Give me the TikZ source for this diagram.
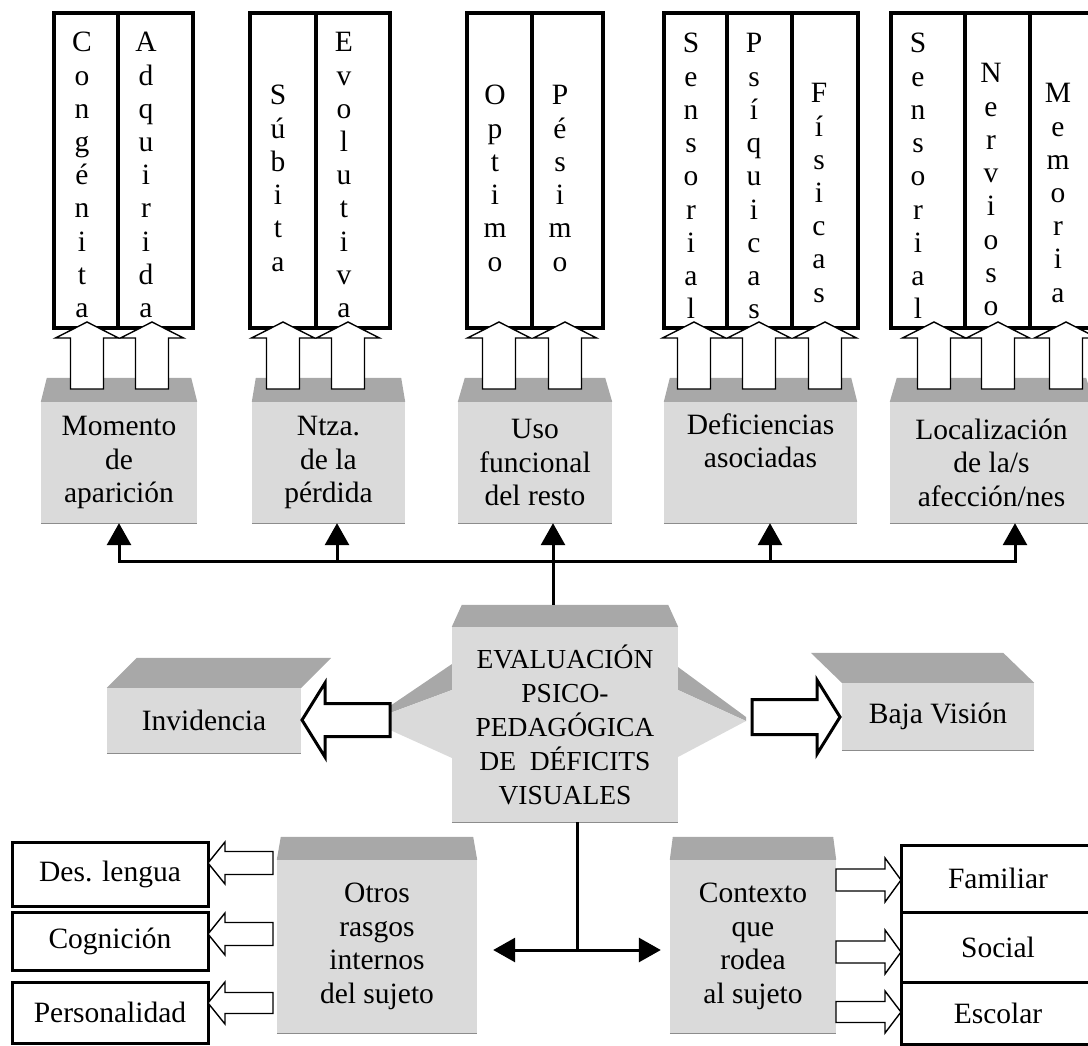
\documentclass[tikz,border=0pt]{standalone}
\usepackage{fontspec}
\setmainfont{Liberation Serif}
\usetikzlibrary{arrows.meta}
\definecolor{frontc}{RGB}{218,218,218}
\definecolor{topc}{RGB}{168,168,168}
\tikzset{
 face/.style={fill=frontc, draw=none, inner sep=0pt, align=center, font=\fontsize{29.5}{33.5}\selectfont},
 capface/.style={face, font=\fontsize{27.5}{34}\selectfont},
 colbox/.style={draw, line width=3.2pt, inner sep=0pt, minimum height=315pt},
 blk/.style={draw, fill=white, line width=1.4pt, line join=miter},
 blkthick/.style={draw, fill=white, line width=3pt, line join=miter},
 lbox/.style={draw, line width=3pt, inner sep=0pt, font=\fontsize{29.5}{33}\selectfont},
 wire/.style={line width=3pt},
 conn/.style={line width=3pt, -{Triangle[length=22pt,width=24pt]}},
 letter/.style={anchor=base, inner sep=0pt, font=\fontsize{29.5}{33}\selectfont},
}
% top face of a 3D box
\newcommand\topface[3]{\fill[topc] ([xshift=#2pt,yshift=#3pt]#1.north west) -- ([xshift=-#2pt,yshift=#3pt]#1.north east) -- (#1.north east) -- (#1.north west) -- cycle;
 \draw[black!45, line width=0.8pt] (#1.south west) -- (#1.south east);}
\newcommand\skewface[3]{\fill[topc] ([xshift=#2pt,yshift=#3pt]#1.north west) -- ([xshift=#2pt,yshift=#3pt]#1.north east) -- (#1.north east) -- (#1.north west) -- cycle;
 \draw[black!45, line width=0.8pt] (#1.south west) -- (#1.south east);}
% vertical block arrow pointing up: x, tip y
\newcommand\blkv[2]{\draw[blk] (#1,#2) -- ({#1+31.5},{#2+16}) -- ({#1+16.5},{#2+16}) -- ({#1+16.5},{#2+67}) -- ({#1-16.5},{#2+67}) -- ({#1-16.5},{#2+16}) -- ({#1-31.5},{#2+16}) -- cycle;}
% horizontal block arrow: tip x, tip y, dir (1 right / -1 left), length, head length, head half, shaft half
\newcommand\blkh[8][blk]{\draw[#1] (#2,#3) -- ({#2-(#4)*(#6)},{#3-#7}) -- ({#2-(#4)*(#6)},{#3-#8}) -- ({#2-(#4)*(#5)},{#3-#8}) -- ({#2-(#4)*(#5)},{#3+#8}) -- ({#2-(#4)*(#6)},{#3+#8}) -- ({#2-(#4)*(#6)},{#3+#7}) -- cycle;}
% column of stacked letters
\newcommand\vword[4]{\foreach \l [count=\i from 0] in {#4} \node[letter] (#1\i) at (#2, {#3+\i*33.2}) {\l};}

\begin{document}
\begin{tikzpicture}[x=1pt,y=-1pt]
\useasboundingbox (0,0) rectangle (1088,1046);
\clip (0,0) rectangle (1088,1046);

% ---------- 3D boxes, top row ----------
\node[face, minimum width=156pt, minimum height=121pt] (mom) at (119,462.5) {Momento\\de\\aparición};
\node[face, minimum width=153pt, minimum height=121pt] (ntz) at (328.5,462.5) {Ntza.\\de la\\pérdida};
\node[face, minimum width=154pt, minimum height=121pt] (uso) at (535,462.5) {Uso\\funcional\\del resto};
\node[face, minimum width=193pt, minimum height=121pt] (def) at (760.5,462.5) {Deficiencias\\asociadas\\\strut};
\node[face, minimum width=203pt, minimum height=121pt] (loc) at (991.5,462.5) {Localización\\de la/s\\afección/nes};
\topface{mom}{6}{24}
\topface{ntz}{4}{24}
\topface{uso}{7}{24}
\topface{def}{6}{24}
\topface{loc}{7}{24}

% ---------- columns ----------
\node[colbox, minimum width=64pt] (m1) at (86,170.5) {};
\node[colbox, minimum width=75pt] (m2) at (155.5,170.5) {};
\node[colbox, minimum width=66pt] (n1) at (283,170.5) {};
\node[colbox, minimum width=74pt] (n2) at (353,170.5) {};
\node[colbox, minimum width=65pt] (u1) at (499.5,170.5) {};
\node[colbox, minimum width=71pt] (u2) at (567.5,170.5) {};
\node[colbox, minimum width=63pt] (d1) at (695.5,170.5) {};
\node[colbox, minimum width=65pt] (d2) at (759.5,170.5) {};
\node[colbox, minimum width=66pt] (d3) at (825,170.5) {};
\node[colbox, minimum width=74pt] (l1) at (928,170.5) {};
\node[colbox, minimum width=65pt] (l2) at (997.5,170.5) {};
\node[colbox, minimum width=65pt] (l3) at (1062.5,170.5) {};

\vword{wa}{82}{52}{C,o,n,g,é,n,i,t,a}
\vword{wb}{146}{52}{A,d,q,u,i,r,i,d,a}
\vword{wc}{278}{105}{S,ú,b,i,t,a}
\vword{wd}{344}{52}{E,v,o,l,u,t,i,v,a}
\vword{we}{495}{105}{O,p,t,i,m,o}
\vword{wf}{560}{105}{P,é,s,i,m,o}
\vword{wg}{691}{53}{S,e,n,s,o,r,i,a,l}
\vword{wh}{754}{53}{P,s,í,q,u,i,c,a,s}
\vword{wi}{819}{103}{F,í,s,i,c,a,s}
\vword{wj}{918}{53}{S,e,n,s,o,r,i,a,l}
\vword{wk}{991}{83}{N,e,r,v,i,o,s,o}
\vword{wl}{1058}{103}{M,e,m,o,r,i,a}

% ---------- block arrows up ----------
\blkv{87}{322}\blkv{152}{322}
\blkv{283}{322}\blkv{348}{322}
\blkv{499}{322}\blkv{565}{322}
\blkv{694}{322}\blkv{759}{322}\blkv{825}{322}
\blkv{934}{322}\blkv{998}{322}\blkv{1066}{322}

% ---------- centre box with wedges ----------
\fill[topc] (452,664) -- (390,706) -- (390,713) -- (452,690) -- cycle;
\fill[frontc] (390,713) -- (452,690) -- (452,758) -- (390,730) -- cycle;
\fill[topc] (678,667) -- (746,717) -- (746,721) -- (678,690) -- cycle;
\fill[frontc] (678,690) -- (746,721) -- (678,757) -- cycle;
\node[capface, minimum width=226pt, minimum height=195pt] (ev) at (565,724.5) {EVALUACIÓN\\PSICO-\\PEDAGÓGICA\\DE~~DÉFICITS\\VISUALES};
\topface{ev}{10}{22}

% ---------- side boxes ----------
\node[face, minimum width=194pt, minimum height=65pt] (inv) at (204,720.5) {Invidencia};
\skewface{inv}{30}{30}
\node[face, minimum width=192pt, minimum height=67pt] (baj) at (938,716.5) {Baja Visión};
\skewface{baj}{-31}{30}
\blkh[blkthick]{302}{720}{-1}{88}{23}{37}{16.5}
\blkh[blkthick]{840}{717}{1}{88}{23}{37}{17.5}

% ---------- bottom boxes ----------
\node[face, minimum width=200pt, minimum height=173pt] (otr) at (377,946.5) {Otros\\rasgos\\internos\\del sujeto};
\topface{otr}{4}{23}
\node[face, minimum width=166pt, minimum height=173pt] (ctx) at (753,946.5) {Contexto\\que\\rodea\\al sujeto};
\topface{ctx}{3}{23}

\node[lbox, minimum width=196pt, minimum height=64pt] (des) at (110,874) {Des. lengua};
\node[lbox, minimum width=196pt, minimum height=58pt] (cog) at (110,941) {Cognición};
\node[lbox, minimum width=196pt, minimum height=61pt] (per) at (110,1012.5) {Personalidad};
\node[lbox, minimum width=194pt, minimum height=67pt] (fam) at (998,878.5) {Familiar};
\node[lbox, minimum width=194pt, minimum height=70pt] (soc) at (998,947) {Social};
\node[lbox, minimum width=194pt, minimum height=62pt] (esc) at (998,1013) {Escolar};

\blkh{208}{863}{-1}{65}{17}{21}{11.5}
\blkh{208}{934}{-1}{65}{17}{21}{11.5}
\blkh{208}{1003}{-1}{65}{17}{21}{10.5}
\blkh{901}{880}{1}{65}{16}{22}{11}
\blkh{901}{952}{1}{65}{16}{22}{11}
\blkh{901}{1012}{1}{65}{16}{21}{10.5}

% ---------- connectors ----------
\coordinate (jM) at (119,561);
\coordinate (jN) at (337,561);
\coordinate (jU) at (553,561);
\coordinate (jD) at (770,561);
\coordinate (jL) at (1015,561);
\coordinate (evtop) at ([yshift=22pt]ev.north);
\draw[wire, line cap=rect] (jM) -- (jL);
\draw[conn] (jM) -- (jM |- mom.south);
\draw[conn] (jN) -- (jN |- ntz.south);
\draw[conn] (jU |- evtop) -- (jU |- uso.south);
\draw[conn] (jD) -- (jD |- def.south);
\draw[conn] (jL) -- (jL |- loc.south);

\coordinate (bJ) at (577,950);
\coordinate (bl) at ([xshift=16pt]otr.east);
\coordinate (br) at ([xshift=-9pt]ctx.west);
\draw[wire] (bJ |- ev.south) -- (bJ);
\draw[line width=3pt, {Triangle[length=22pt,width=24pt]}-{Triangle[length=22pt,width=24pt]}] (bl |- bJ) -- (br |- bJ);
\end{tikzpicture}
\end{document}
